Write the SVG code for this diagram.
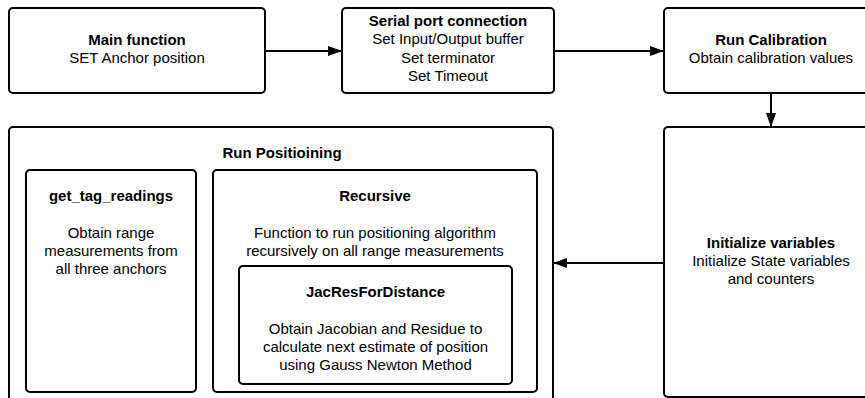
<svg xmlns="http://www.w3.org/2000/svg" width="865" height="398" viewBox="0 0 865 398">
<defs>
<style>
.box{fill:#fff;stroke:#000;stroke-width:2}
.t{font-family:"Liberation Sans",Arial,sans-serif;font-size:15px;fill:#000;text-anchor:middle}
.b{font-weight:bold}
.c{fill:none;stroke:#000;stroke-width:2}
</style>
<marker id="ah" markerWidth="14" markerHeight="10" refX="13" refY="5" orient="auto" markerUnits="userSpaceOnUse">
<path d="M0,0 L14,5 L0,10 Z" fill="#000"/>
</marker>
</defs>
<rect width="865" height="398" fill="#fff"/>
<g id="connectors">
<line class="c" x1="265" y1="51" x2="341" y2="51" marker-end="url(#ah)"/>
<line class="c" x1="554" y1="51" x2="663" y2="51" marker-end="url(#ah)"/>
<line class="c" x1="771" y1="93" x2="771" y2="126" marker-end="url(#ah)"/>
<line class="c" x1="664" y1="263" x2="554" y2="263" marker-end="url(#ah)"/>
</g>
<g id="main">
<rect class="box" x="9" y="8" width="256" height="85" rx="4"/>
<text class="t b" x="137" y="45">Main function</text>
<text class="t" x="137" y="63">SET Anchor position</text>
</g>
<g id="serial">
<rect class="box" x="342" y="8" width="212" height="85" rx="4"/>
<text class="t b" x="448" y="26">Serial port connection</text>
<text class="t" x="448" y="44">Set Input/Output buffer</text>
<text class="t" x="448" y="63">Set terminator</text>
<text class="t" x="448" y="81">Set Timeout</text>
</g>
<g id="calibration">
<rect class="box" x="664" y="8" width="214" height="85" rx="4"/>
<text class="t b" x="771" y="45">Run Calibration</text>
<text class="t" x="771" y="63">Obtain calibration values</text>
</g>
<g id="initialize">
<rect class="box" x="664" y="127" width="214" height="270" rx="4"/>
<text class="t b" x="771" y="248">Initialize variables</text>
<text class="t" x="771" y="266">Initialize State variables</text>
<text class="t" x="771" y="284">and counters</text>
</g>
<g id="positioning">
<rect class="box" x="9" y="127" width="544" height="280" rx="4"/>
<text class="t b" x="282" y="158">Run Positioining</text>
</g>
<g id="get_tag_readings">
<rect class="box" x="26" y="170" width="170" height="222" rx="4"/>
<text class="t b" x="111" y="201">get_tag_readings</text>
<text class="t" x="111" y="238">Obtain range</text>
<text class="t" x="111" y="256">measurements from</text>
<text class="t" x="111" y="274">all three anchors</text>
</g>
<g id="recursive">
<rect class="box" x="213" y="170" width="324" height="222" rx="4"/>
<text class="t b" x="375" y="201">Recursive</text>
<text class="t" x="375" y="238">Function to run positioning algorithm</text>
<text class="t" x="375" y="256">recursively on all range measurements</text>
</g>
<g id="jacres">
<rect class="box" x="239" y="266" width="273" height="118" rx="4"/>
<text class="t b" x="375.5" y="297">JacResForDistance</text>
<text class="t" x="375.5" y="334">Obtain Jacobian and Residue to</text>
<text class="t" x="375.5" y="352">calculate next estimate of position</text>
<text class="t" x="375.5" y="370">using Gauss Newton Method</text>
</g>
</svg>
